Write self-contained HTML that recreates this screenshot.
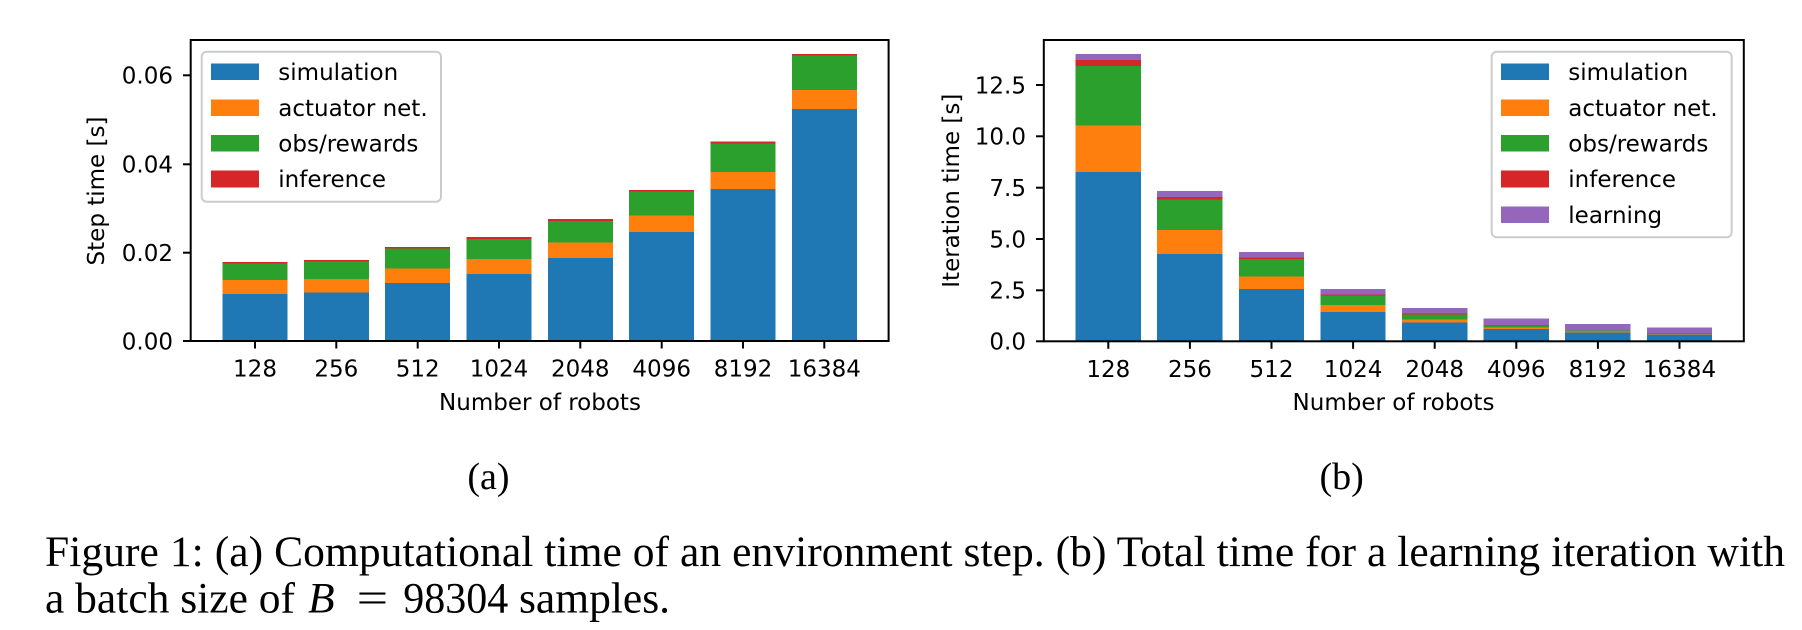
<!DOCTYPE html>
<html>
<head>
<meta charset="utf-8">
<style>
  html, body { margin: 0; padding: 0; background: #ffffff; }
  body { width: 1802px; height: 630px; overflow: hidden; }
  svg { display: block; }
  .mpl { font-family: "DejaVu Sans", "Liberation Sans", sans-serif; font-size: 23px; fill: #000; }
  .cap { font-family: "Liberation Serif", serif; fill: #000; }
</style>
</head>
<body>
<svg width="1802" height="630" viewBox="0 0 1802 630" xmlns="http://www.w3.org/2000/svg">
  <rect x="0" y="0" width="1802" height="630" fill="#ffffff"/>

  <!-- ================= LEFT CHART ================= -->
  <g id="leftbars" shape-rendering="crispEdges">
    <!-- 128 -->
    <rect x="222.5" y="294" width="65" height="47" fill="#1f77b4"/>
    <rect x="222.5" y="280" width="65" height="14" fill="#ff7f0e"/>
    <rect x="222.5" y="263.3" width="65" height="16.7" fill="#2ca02c"/>
    <rect x="222.5" y="262" width="65" height="1.3" fill="#d62728"/>
    <!-- 256 -->
    <rect x="303.8" y="292.3" width="65" height="48.7" fill="#1f77b4"/>
    <rect x="303.8" y="279" width="65" height="13.3" fill="#ff7f0e"/>
    <rect x="303.8" y="261.7" width="65" height="17.3" fill="#2ca02c"/>
    <rect x="303.8" y="260" width="65" height="1.7" fill="#d62728"/>
    <!-- 512 -->
    <rect x="385.2" y="283" width="65" height="58" fill="#1f77b4"/>
    <rect x="385.2" y="268.3" width="65" height="14.7" fill="#ff7f0e"/>
    <rect x="385.2" y="248.7" width="65" height="19.6" fill="#2ca02c"/>
    <rect x="385.2" y="247" width="65" height="1.7" fill="#d62728"/>
    <!-- 1024 -->
    <rect x="466.5" y="274" width="65" height="67" fill="#1f77b4"/>
    <rect x="466.5" y="259" width="65" height="15" fill="#ff7f0e"/>
    <rect x="466.5" y="239" width="65" height="20" fill="#2ca02c"/>
    <rect x="466.5" y="237" width="65" height="2" fill="#d62728"/>
    <!-- 2048 -->
    <rect x="547.8" y="258" width="65" height="83" fill="#1f77b4"/>
    <rect x="547.8" y="242.7" width="65" height="15.3" fill="#ff7f0e"/>
    <rect x="547.8" y="221" width="65" height="21.7" fill="#2ca02c"/>
    <rect x="547.8" y="219" width="65" height="2" fill="#d62728"/>
    <!-- 4096 -->
    <rect x="629.2" y="232" width="65" height="109" fill="#1f77b4"/>
    <rect x="629.2" y="215.7" width="65" height="16.3" fill="#ff7f0e"/>
    <rect x="629.2" y="191.7" width="65" height="24" fill="#2ca02c"/>
    <rect x="629.2" y="190" width="65" height="1.7" fill="#d62728"/>
    <!-- 8192 -->
    <rect x="710.5" y="189" width="65" height="152" fill="#1f77b4"/>
    <rect x="710.5" y="172" width="65" height="17" fill="#ff7f0e"/>
    <rect x="710.5" y="143.7" width="65" height="28.3" fill="#2ca02c"/>
    <rect x="710.5" y="141.3" width="65" height="2.4" fill="#d62728"/>
    <!-- 16384 -->
    <rect x="791.8" y="109" width="65" height="232" fill="#1f77b4"/>
    <rect x="791.8" y="90" width="65" height="19" fill="#ff7f0e"/>
    <rect x="791.8" y="55.7" width="65" height="34.3" fill="#2ca02c"/>
    <rect x="791.8" y="54" width="65" height="1.7" fill="#d62728"/>
  </g>

  <!-- left frame -->
  <rect x="190.7" y="40" width="697.9" height="301" fill="none" stroke="#000" stroke-width="2"/>

  <!-- left y ticks -->
  <g stroke="#000" stroke-width="2">
    <line x1="183" y1="341" x2="190.7" y2="341"/>
    <line x1="183" y1="252.7" x2="190.7" y2="252.7"/>
    <line x1="183" y1="164.3" x2="190.7" y2="164.3"/>
    <line x1="183" y1="75.3" x2="190.7" y2="75.3"/>
  </g>
  <g class="mpl" text-anchor="end">
    <text x="173" y="349.3">0.00</text>
    <text x="173" y="261">0.02</text>
    <text x="173" y="172.6">0.04</text>
    <text x="173" y="83.6">0.06</text>
  </g>
  <!-- left x ticks -->
  <g stroke="#000" stroke-width="2">
    <line x1="255" y1="341" x2="255" y2="348.5"/>
    <line x1="336.3" y1="341" x2="336.3" y2="348.5"/>
    <line x1="417.7" y1="341" x2="417.7" y2="348.5"/>
    <line x1="499" y1="341" x2="499" y2="348.5"/>
    <line x1="580.3" y1="341" x2="580.3" y2="348.5"/>
    <line x1="661.7" y1="341" x2="661.7" y2="348.5"/>
    <line x1="743" y1="341" x2="743" y2="348.5"/>
    <line x1="824.3" y1="341" x2="824.3" y2="348.5"/>
  </g>
  <g class="mpl" text-anchor="middle">
    <text x="255" y="376.7">128</text>
    <text x="336.3" y="376.7">256</text>
    <text x="417.7" y="376.7">512</text>
    <text x="499" y="376.7">1024</text>
    <text x="580.3" y="376.7">2048</text>
    <text x="661.7" y="376.7">4096</text>
    <text x="743" y="376.7">8192</text>
    <text x="824.3" y="376.7">16384</text>
    <text x="540" y="410">Number of robots</text>
    <text transform="translate(104,191) rotate(-90)" x="0" y="0">Step time [s]</text>
  </g>

  <!-- left legend -->
  <rect x="201.7" y="51.7" width="239.3" height="150" rx="5" ry="5" fill="#ffffff" fill-opacity="0.8" stroke="#cccccc" stroke-width="2"/>
  <g shape-rendering="crispEdges">
    <rect x="211" y="63.3" width="48" height="16.7" fill="#1f77b4"/>
    <rect x="211" y="99.3" width="48" height="16.7" fill="#ff7f0e"/>
    <rect x="211" y="135" width="48" height="16.7" fill="#2ca02c"/>
    <rect x="211" y="170.7" width="48" height="16.7" fill="#d62728"/>
  </g>
  <g class="mpl">
    <text x="278.3" y="80">simulation</text>
    <text x="278.3" y="116">actuator net.</text>
    <text x="278.3" y="151.5">obs/rewards</text>
    <text x="278.3" y="187">inference</text>
  </g>

  <!-- ================= RIGHT CHART ================= -->
  <g id="rightbars" shape-rendering="crispEdges">
    <!-- 128 -->
    <rect x="1075.7" y="172" width="65.3" height="169.3" fill="#1f77b4"/>
    <rect x="1075.7" y="125.7" width="65.3" height="46.3" fill="#ff7f0e"/>
    <rect x="1075.7" y="66" width="65.3" height="59.7" fill="#2ca02c"/>
    <rect x="1075.7" y="60" width="65.3" height="6" fill="#d62728"/>
    <rect x="1075.7" y="54" width="65.3" height="6" fill="#9467bd"/>
    <!-- 256 -->
    <rect x="1157.2" y="254" width="65.3" height="87.3" fill="#1f77b4"/>
    <rect x="1157.2" y="230" width="65.3" height="24" fill="#ff7f0e"/>
    <rect x="1157.2" y="199.7" width="65.3" height="30.3" fill="#2ca02c"/>
    <rect x="1157.2" y="197" width="65.3" height="2.7" fill="#d62728"/>
    <rect x="1157.2" y="191" width="65.3" height="6" fill="#9467bd"/>
    <!-- 512 -->
    <rect x="1238.8" y="289" width="65.3" height="52.3" fill="#1f77b4"/>
    <rect x="1238.8" y="276.3" width="65.3" height="12.7" fill="#ff7f0e"/>
    <rect x="1238.8" y="259" width="65.3" height="17.3" fill="#2ca02c"/>
    <rect x="1238.8" y="257.7" width="65.3" height="1.3" fill="#d62728"/>
    <rect x="1238.8" y="252" width="65.3" height="5.7" fill="#9467bd"/>
    <!-- 1024 -->
    <rect x="1320.4" y="312" width="65.3" height="29.3" fill="#1f77b4"/>
    <rect x="1320.4" y="305" width="65.3" height="7" fill="#ff7f0e"/>
    <rect x="1320.4" y="295.7" width="65.3" height="9.3" fill="#2ca02c"/>
    <rect x="1320.4" y="294.7" width="65.3" height="1" fill="#d62728"/>
    <rect x="1320.4" y="289" width="65.3" height="5.7" fill="#9467bd"/>
    <!-- 2048 -->
    <rect x="1402" y="322.7" width="65.3" height="18.6" fill="#1f77b4"/>
    <rect x="1402" y="319.3" width="65.3" height="3.4" fill="#ff7f0e"/>
    <rect x="1402" y="314.7" width="65.3" height="4.6" fill="#2ca02c"/>
    <rect x="1402" y="313.7" width="65.3" height="1" fill="#d62728"/>
    <rect x="1402" y="308" width="65.3" height="5.7" fill="#9467bd"/>
    <!-- 4096 -->
    <rect x="1483.6" y="329" width="65.3" height="12.3" fill="#1f77b4"/>
    <rect x="1483.6" y="327.7" width="65.3" height="1.3" fill="#ff7f0e"/>
    <rect x="1483.6" y="325.3" width="65.3" height="2.4" fill="#2ca02c"/>
    <rect x="1483.6" y="325" width="65.3" height="0.5" fill="#d62728"/>
    <rect x="1483.6" y="318.3" width="65.3" height="6.7" fill="#9467bd"/>
    <!-- 8192 -->
    <rect x="1565.2" y="332.7" width="65.3" height="8.6" fill="#1f77b4"/>
    <rect x="1565.2" y="331.7" width="65.3" height="1" fill="#ff7f0e"/>
    <rect x="1565.2" y="330.3" width="65.3" height="1.4" fill="#2ca02c"/>
    <rect x="1565.2" y="324" width="65.3" height="6.3" fill="#9467bd"/>
    <!-- 16384 -->
    <rect x="1646.8" y="334.7" width="65.3" height="6.6" fill="#1f77b4"/>
    <rect x="1646.8" y="334" width="65.3" height="0.7" fill="#ff7f0e"/>
    <rect x="1646.8" y="333" width="65.3" height="1" fill="#2ca02c"/>
    <rect x="1646.8" y="327.7" width="65.3" height="5.3" fill="#9467bd"/>
  </g>

  <!-- right frame -->
  <rect x="1043.8" y="40" width="700" height="301.3" fill="none" stroke="#000" stroke-width="2"/>

  <!-- right y ticks -->
  <g stroke="#000" stroke-width="2">
    <line x1="1036" y1="341.3" x2="1043.8" y2="341.3"/>
    <line x1="1036" y1="290.3" x2="1043.8" y2="290.3"/>
    <line x1="1036" y1="239" x2="1043.8" y2="239"/>
    <line x1="1036" y1="187.7" x2="1043.8" y2="187.7"/>
    <line x1="1036" y1="136.3" x2="1043.8" y2="136.3"/>
    <line x1="1036" y1="85" x2="1043.8" y2="85"/>
  </g>
  <g class="mpl" text-anchor="end">
    <text x="1026" y="349.6">0.0</text>
    <text x="1026" y="298.6">2.5</text>
    <text x="1026" y="247.3">5.0</text>
    <text x="1026" y="196">7.5</text>
    <text x="1026" y="144.6">10.0</text>
    <text x="1026" y="93.3">12.5</text>
  </g>
  <!-- right x ticks -->
  <g stroke="#000" stroke-width="2">
    <line x1="1108.3" y1="341.3" x2="1108.3" y2="348.8"/>
    <line x1="1189.9" y1="341.3" x2="1189.9" y2="348.8"/>
    <line x1="1271.5" y1="341.3" x2="1271.5" y2="348.8"/>
    <line x1="1353.1" y1="341.3" x2="1353.1" y2="348.8"/>
    <line x1="1434.7" y1="341.3" x2="1434.7" y2="348.8"/>
    <line x1="1516.3" y1="341.3" x2="1516.3" y2="348.8"/>
    <line x1="1597.9" y1="341.3" x2="1597.9" y2="348.8"/>
    <line x1="1679.5" y1="341.3" x2="1679.5" y2="348.8"/>
  </g>
  <g class="mpl" text-anchor="middle">
    <text x="1108.3" y="377">128</text>
    <text x="1189.9" y="377">256</text>
    <text x="1271.5" y="377">512</text>
    <text x="1353.1" y="377">1024</text>
    <text x="1434.7" y="377">2048</text>
    <text x="1516.3" y="377">4096</text>
    <text x="1597.9" y="377">8192</text>
    <text x="1679.5" y="377">16384</text>
    <text x="1393.5" y="410">Number of robots</text>
    <text transform="translate(959,190.7) rotate(-90)" x="0" y="0">Iteration time [s]</text>
  </g>

  <!-- right legend -->
  <rect x="1491.7" y="51.7" width="240" height="185.6" rx="5" ry="5" fill="#ffffff" fill-opacity="0.8" stroke="#cccccc" stroke-width="2"/>
  <g shape-rendering="crispEdges">
    <rect x="1501" y="63.3" width="48" height="16.7" fill="#1f77b4"/>
    <rect x="1501" y="99.3" width="48" height="16.7" fill="#ff7f0e"/>
    <rect x="1501" y="135" width="48" height="16.7" fill="#2ca02c"/>
    <rect x="1501" y="170.7" width="48" height="16.7" fill="#d62728"/>
    <rect x="1501" y="206.3" width="48" height="16.7" fill="#9467bd"/>
  </g>
  <g class="mpl">
    <text x="1568.3" y="80">simulation</text>
    <text x="1568.3" y="116">actuator net.</text>
    <text x="1568.3" y="151.5">obs/rewards</text>
    <text x="1568.3" y="187">inference</text>
    <text x="1568.3" y="222.8">learning</text>
  </g>

  <!-- subfigure labels -->
  <text class="cap" x="488.5" y="489" font-size="38" text-anchor="middle">(a)</text>
  <text class="cap" x="1341.7" y="489" font-size="38" text-anchor="middle">(b)</text>

  <!-- caption -->
  <text class="cap" x="45" y="566" font-size="43.5" textLength="1740" lengthAdjust="spacing">Figure 1: (a) Computational time of an environment step. (b) Total time for a learning iteration with</text>
  <text class="cap" x="45" y="612.7" font-size="43.5">a batch size of</text>
  <text class="cap" x="308" y="612.7" font-size="43.5" font-style="italic">B</text>
  <text class="cap" x="356.7" y="612.7" font-size="43.5" textLength="31.6" lengthAdjust="spacingAndGlyphs">=</text>
  <text class="cap" x="403.3" y="612.7" font-size="43.5" textLength="105" lengthAdjust="spacingAndGlyphs">98304</text>
  <text class="cap" x="519" y="612.7" font-size="43.5">samples.</text>
</svg>
</body>
</html>
